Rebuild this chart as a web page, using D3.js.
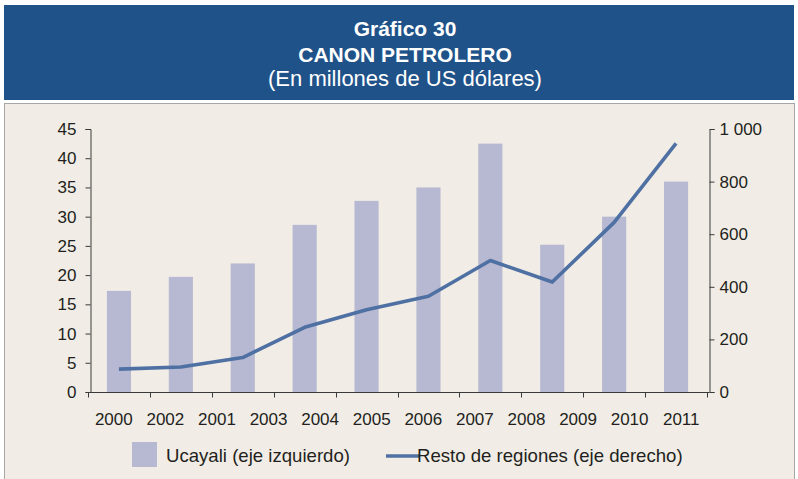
<!DOCTYPE html>
<html>
<head>
<meta charset="utf-8">
<script src="https://cdn.jsdelivr.net/npm/d3@7"></script>
<style>
  html, body { margin: 0; padding: 0; background: #ffffff; }
  svg { display: block; font-family: "Liberation Sans", Arial, sans-serif; }
</style>
</head>
<body>
<svg id="chart" width="798" height="479"></svg>
<script>
// Axis labels as printed under the chart
const xLabels = ["2000", "2002", "2001", "2003", "2004", "2005", "2006", "2007", "2008", "2009", "2010", "2011"];
// Ten observation periods plotted
const periods = [0, 1, 2, 3, 4, 5, 6, 7, 8, 9];
// Ucayali, millions of US$ (left axis)
const ucayali = [17.3, 19.7, 22.0, 28.6, 32.7, 35.0, 42.5, 25.2, 30.0, 36.0];
// Rest of regions, millions of US$ (right axis)
const restoRegiones = [87, 95, 131, 246, 313, 364, 500, 418, 645, 945];
const leftTicks = [0, 5, 10, 15, 20, 25, 30, 35, 40, 45];
const rightTicks = [0, 200, 400, 600, 800, 1000];

const svg = d3.select("#chart");

// Header banner
svg.append("rect").attr("x", 4).attr("y", 5).attr("width", 790).attr("height", 95).attr("fill", "#1f5289");
const titles = [
  { t: "Gráfico 30", y: 36, w: "bold", s: 21 },
  { t: "CANON PETROLERO", y: 62, w: "bold", s: 21 },
  { t: "(En millones de US dólares)", y: 86, w: "normal", s: 22 }
];
svg.selectAll("text.title").data(titles).join("text")
  .attr("class", "title")
  .attr("x", 405).attr("y", d => d.y)
  .attr("text-anchor", "middle")
  .attr("fill", "#ffffff")
  .attr("font-size", d => d.s)
  .attr("font-weight", d => d.w)
  .text(d => d.t);

// Chart panel
svg.append("rect").attr("x", 4.5).attr("y", 103.5).attr("width", 790).attr("height", 390)
  .attr("fill", "#f1ede6").attr("stroke", "#a9a7a3").attr("stroke-width", 1);

const plotL = 90.5, plotR = 709.5, yTop = 129, yBot = 392;

const x = d3.scaleBand().domain(periods).range([88, 707]).paddingInner(0.61).paddingOuter(0.305);
const xSlot = d3.scaleBand().domain(periods).range([88, 707]);
const xLab = d3.scaleBand().domain(xLabels).range([88, 707]);
const yL = d3.scaleLinear().domain([0, 45]).range([yBot, yTop]);
const yR = d3.scaleLinear().domain([0, 1000]).range([yBot, yTop]);

const axisColor = "#3a3a3a";
const textColor = "#231f20";

// Bars
svg.append("g").selectAll("rect").data(periods).join("rect")
  .attr("x", d => x(d))
  .attr("width", x.bandwidth())
  .attr("y", d => yL(ucayali[d]))
  .attr("height", d => yBot - yL(ucayali[d]))
  .attr("fill", "#b7b8d1");

// Left axis
const gL = svg.append("g").attr("transform", `translate(${plotL},0)`)
  .call(d3.axisLeft(yL).tickValues(leftTicks).tickSize(5).tickPadding(9).tickFormat(d3.format("d")));
// Right axis
const fmtSpace = d => d >= 1000 ? d3.format(",")(d).replace(/,/g, " ") : String(d);
const gR = svg.append("g").attr("transform", `translate(${plotR},0)`)
  .call(d3.axisRight(yR).tickValues(rightTicks).tickSize(5).tickPadding(5).tickFormat(fmtSpace));
[gL, gR].forEach(g => {
  g.select(".domain").attr("stroke", axisColor);
  g.selectAll(".tick line").attr("stroke", axisColor);
  g.selectAll(".tick text").attr("fill", textColor).attr("font-size", 17)
    .attr("font-family", "Liberation Sans, Arial, sans-serif");
});

// X axis line with tick marks at the period boundaries
const boundaries = periods.map(d => xSlot(d)).concat([xSlot(periods[periods.length - 1]) + xSlot.bandwidth()]);
const gX = svg.append("g");
gX.append("line").attr("x1", plotL).attr("x2", plotR).attr("y1", yBot + 0.5).attr("y2", yBot + 0.5)
  .attr("stroke", axisColor);
gX.selectAll("line.tk").data(boundaries).join("line").attr("class", "tk")
  .attr("x1", d => Math.round(d) + 0.5).attr("x2", d => Math.round(d) + 0.5)
  .attr("y1", yBot).attr("y2", yBot + 5.5).attr("stroke", axisColor);
gX.selectAll("text").data(xLabels).join("text")
  .attr("x", d => xLab(d) + xLab.bandwidth() / 2)
  .attr("y", 425)
  .attr("text-anchor", "middle")
  .attr("font-size", 17)
  .attr("fill", textColor)
  .text(d => d);

// Line series (right axis)
const line = d3.line().x(d => x(d) + x.bandwidth() / 2).y(d => yR(restoRegiones[d]));
svg.append("path").datum(periods).attr("d", line)
  .attr("fill", "none").attr("stroke", "#4f70a3").attr("stroke-width", 3.6)
  .attr("stroke-linejoin", "round");

// Legend
const lg = svg.append("g");
lg.append("rect").attr("x", 132).attr("y", 442).attr("width", 25).attr("height", 25).attr("fill", "#b7b8d1");
lg.append("text").attr("x", 166).attr("y", 462).attr("font-size", 18.6).attr("fill", textColor)
  .text("Ucayali (eje izquierdo)");
lg.append("line").attr("x1", 386).attr("x2", 419).attr("y1", 456).attr("y2", 456)
  .attr("stroke", "#4f70a3").attr("stroke-width", 3.6);
lg.append("text").attr("x", 417).attr("y", 462).attr("font-size", 18.6).attr("fill", textColor)
  .text("Resto de regiones (eje derecho)");
</script>
</body>
</html>
